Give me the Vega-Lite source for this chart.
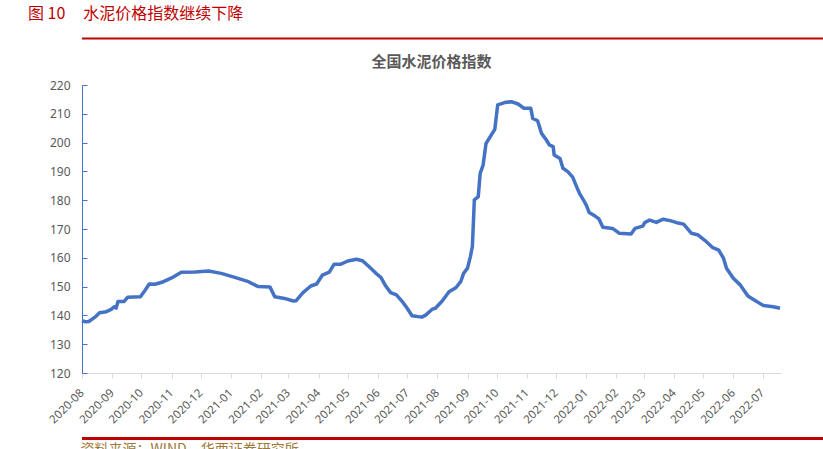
{
  "$schema": "https://vega.github.io/schema/vega-lite/v6.json",
  "background": "white",
  "padding": {"left": 28, "top": 5, "right": 11, "bottom": 0},
  "title": {"text": "图 10\u00a0\u00a0\u00a0\u00a0\u00a0水泥价格指数继续下降", "anchor": "start", "color": "#c00000", "fontSize": 16, "font": "Noto Sans CJK SC", "fontWeight": "normal", "offset": 16},
  "spacing": 15,
  "align": "none",
  "config": {"view": {"stroke": null}, "font": "Noto Sans"},
  "vconcat": [
    {
      "width": 784, "height": 1,
      "data": {"values": [{"v": 0}]},
      "mark": {"type": "rule", "color": "#c00000", "strokeWidth": 2},
      "encoding": {"y": {"field": "v", "type": "quantitative", "axis": null}}
    },
    {
      "spacing": 11,
      "align": "none",
      "vconcat": [
        {
          "width": 699, "height": 288,
          "title": {"text": "全国水泥价格指数", "fontSize": 15, "fontWeight": "bold", "color": "#595959", "font": "Noto Sans CJK SC", "anchor": "middle", "offset": 9},
          "data": {"values": [
            {"date": "2020/08/01", "value": 138.2},
            {"date": "2020/08/04", "value": 137.8},
            {"date": "2020/08/08", "value": 137.9},
            {"date": "2020/08/14", "value": 139.3},
            {"date": "2020/08/19", "value": 140.9},
            {"date": "2020/08/26", "value": 141.3},
            {"date": "2020/08/31", "value": 142.1},
            {"date": "2020/09/03", "value": 143.0},
            {"date": "2020/09/05", "value": 142.5},
            {"date": "2020/09/07", "value": 144.8},
            {"date": "2020/09/13", "value": 144.8},
            {"date": "2020/09/17", "value": 146.3},
            {"date": "2020/09/30", "value": 146.5},
            {"date": "2020/10/05", "value": 148.8},
            {"date": "2020/10/09", "value": 150.9},
            {"date": "2020/10/15", "value": 150.8},
            {"date": "2020/10/22", "value": 151.5},
            {"date": "2020/11/01", "value": 153.0},
            {"date": "2020/11/11", "value": 155.0},
            {"date": "2020/11/25", "value": 155.1},
            {"date": "2020/12/09", "value": 155.4},
            {"date": "2020/12/22", "value": 154.6},
            {"date": "2021/01/05", "value": 153.2},
            {"date": "2021/01/19", "value": 151.7},
            {"date": "2021/01/29", "value": 150.0},
            {"date": "2021/02/10", "value": 149.9},
            {"date": "2021/02/15", "value": 146.5},
            {"date": "2021/02/25", "value": 145.9},
            {"date": "2021/03/06", "value": 145.0},
            {"date": "2021/03/09", "value": 145.1},
            {"date": "2021/03/16", "value": 147.9},
            {"date": "2021/03/24", "value": 150.2},
            {"date": "2021/03/30", "value": 150.9},
            {"date": "2021/04/05", "value": 154.0},
            {"date": "2021/04/12", "value": 155.0},
            {"date": "2021/04/17", "value": 157.8},
            {"date": "2021/04/24", "value": 157.8},
            {"date": "2021/05/01", "value": 158.9},
            {"date": "2021/05/10", "value": 159.5},
            {"date": "2021/05/16", "value": 159.0},
            {"date": "2021/05/23", "value": 156.9},
            {"date": "2021/05/30", "value": 154.6},
            {"date": "2021/06/04", "value": 153.2},
            {"date": "2021/06/09", "value": 150.2},
            {"date": "2021/06/14", "value": 147.9},
            {"date": "2021/06/20", "value": 147.1},
            {"date": "2021/06/26", "value": 144.8},
            {"date": "2021/07/01", "value": 142.5},
            {"date": "2021/07/06", "value": 139.9},
            {"date": "2021/07/16", "value": 139.4},
            {"date": "2021/07/20", "value": 140.1},
            {"date": "2021/07/27", "value": 142.2},
            {"date": "2021/07/30", "value": 142.5},
            {"date": "2021/08/06", "value": 145.0},
            {"date": "2021/08/13", "value": 148.2},
            {"date": "2021/08/20", "value": 149.6},
            {"date": "2021/08/25", "value": 151.7},
            {"date": "2021/08/28", "value": 154.6},
            {"date": "2021/09/01", "value": 156.4},
            {"date": "2021/09/04", "value": 160.5},
            {"date": "2021/09/06", "value": 164.0},
            {"date": "2021/09/07", "value": 172.0},
            {"date": "2021/09/08", "value": 180.1},
            {"date": "2021/09/12", "value": 181.2},
            {"date": "2021/09/14", "value": 189.3},
            {"date": "2021/09/17", "value": 192.2},
            {"date": "2021/09/20", "value": 199.7},
            {"date": "2021/09/29", "value": 204.6},
            {"date": "2021/10/02", "value": 213.1},
            {"date": "2021/10/09", "value": 213.9},
            {"date": "2021/10/16", "value": 214.2},
            {"date": "2021/10/23", "value": 213.4},
            {"date": "2021/10/29", "value": 211.9},
            {"date": "2021/11/05", "value": 211.9},
            {"date": "2021/11/07", "value": 208.4},
            {"date": "2021/11/12", "value": 207.6},
            {"date": "2021/11/16", "value": 203.2},
            {"date": "2021/11/21", "value": 200.9},
            {"date": "2021/11/24", "value": 199.2},
            {"date": "2021/11/28", "value": 198.6},
            {"date": "2021/11/29", "value": 195.7},
            {"date": "2021/12/05", "value": 194.5},
            {"date": "2021/12/08", "value": 191.1},
            {"date": "2021/12/13", "value": 189.9},
            {"date": "2021/12/18", "value": 188.0},
            {"date": "2021/12/22", "value": 184.7},
            {"date": "2021/12/25", "value": 182.4},
            {"date": "2021/12/29", "value": 180.1},
            {"date": "2022/01/01", "value": 178.3},
            {"date": "2022/01/04", "value": 175.7},
            {"date": "2022/01/10", "value": 174.5},
            {"date": "2022/01/14", "value": 173.5},
            {"date": "2022/01/18", "value": 170.6},
            {"date": "2022/01/28", "value": 170.2},
            {"date": "2022/02/04", "value": 168.5},
            {"date": "2022/02/16", "value": 168.3},
            {"date": "2022/02/20", "value": 170.2},
            {"date": "2022/02/28", "value": 171.0},
            {"date": "2022/03/02", "value": 172.2},
            {"date": "2022/03/07", "value": 173.1},
            {"date": "2022/03/14", "value": 172.3},
            {"date": "2022/03/21", "value": 173.4},
            {"date": "2022/03/28", "value": 172.9},
            {"date": "2022/04/04", "value": 172.2},
            {"date": "2022/04/11", "value": 171.7},
            {"date": "2022/04/19", "value": 168.5},
            {"date": "2022/04/26", "value": 167.9},
            {"date": "2022/05/03", "value": 166.0},
            {"date": "2022/05/11", "value": 163.5},
            {"date": "2022/05/17", "value": 162.7},
            {"date": "2022/05/22", "value": 159.8},
            {"date": "2022/05/25", "value": 156.4},
            {"date": "2022/06/01", "value": 152.9},
            {"date": "2022/06/08", "value": 150.6},
            {"date": "2022/06/16", "value": 146.7},
            {"date": "2022/06/25", "value": 144.8},
            {"date": "2022/07/02", "value": 143.4},
            {"date": "2022/07/12", "value": 143.0},
            {"date": "2022/07/19", "value": 142.5}
          ]},
          "mark": {"type": "line", "color": "#4472c4", "strokeWidth": 3.5, "strokeJoin": "round"},
          "encoding": {
            "x": {"field": "date", "type": "temporal",
              "scale": {"domain": [{"year": 2020, "month": 8, "date": 1}, {"year": 2022, "month": 7, "date": 20}]},
              "axis": {"format": "%Y-%m", "tickCount": {"interval": "month", "step": 1}, "labelAngle": -45, "labelAlign": "right", "labelBaseline": "middle", "labelPadding": 13, "tickSize": 5, "tickColor": "#d9d9d9", "domainColor": "#d9d9d9", "labelColor": "#595959", "labelFontSize": 11.5, "grid": false, "title": null, "labelOverlap": false, "labelFlush": false}},
            "y": {"field": "value", "type": "quantitative",
              "scale": {"domain": [120, 220], "nice": false, "zero": false},
              "axis": {"values": [120, 130, 140, 150, 160, 170, 180, 190, 200, 210, 220], "tickSize": -5, "labelPadding": 17, "domainColor": "#4472c4", "tickColor": "#4472c4", "labelColor": "#595959", "labelFontSize": 12, "grid": false, "title": null, "minExtent": 54}}
          }
        },
        {
          "width": 784, "height": 1,
          "data": {"values": [{"v": 0}]},
          "mark": {"type": "rule", "color": "#c00000", "strokeWidth": 3},
          "encoding": {"y": {"field": "v", "type": "quantitative", "axis": null}},
          "title": {"text": "资料来源：WIND，华西证券研究所", "orient": "bottom", "anchor": "start", "color": "#9c7a3c", "fontSize": 14, "fontWeight": "normal", "font": "Noto Sans CJK SC", "offset": 3}
        }
      ]
    }
  ]
}
